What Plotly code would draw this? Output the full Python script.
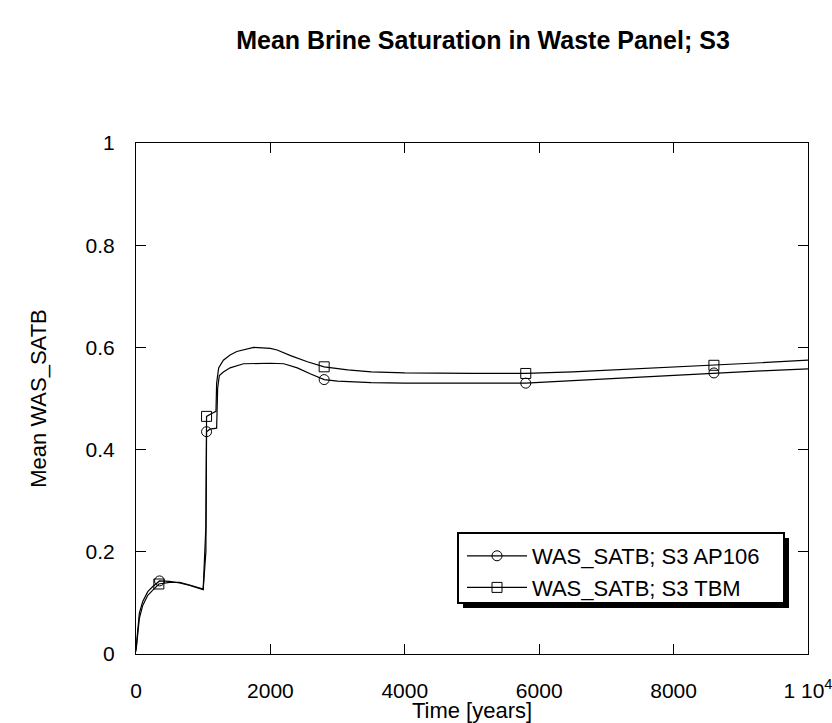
import plotly.graph_objects as go

# ---- data ----
t_ap106 = [0, 25, 50, 100, 175, 250, 350, 500, 650, 800, 1000, 1040, 1050, 1100, 1200, 1215, 1240,
           1300, 1400, 1600, 1800, 2000, 2200, 2400, 2600, 2800, 3000, 3500, 4000, 5000, 5800,
           6500, 7500, 8600, 9300, 10000]
v_ap106 = [0.01, 0.05, 0.08, 0.103, 0.122, 0.132, 0.143, 0.142, 0.139, 0.134, 0.126, 0.2, 0.435, 0.44, 0.442, 0.52, 0.545,
           0.552, 0.56, 0.568, 0.569, 0.569, 0.568, 0.56, 0.548, 0.537, 0.534, 0.531, 0.530, 0.530, 0.530,
           0.535, 0.542, 0.550, 0.554, 0.558]

t_tbm = [0, 25, 50, 100, 175, 250, 340, 500, 650, 800, 1000, 1040, 1050, 1120, 1190, 1200, 1230,
         1300, 1400, 1500, 1750, 2000, 2100, 2300, 2550, 2800, 3150, 3500, 4000, 5000, 5800,
         6500, 7500, 8600, 9300, 10000]
v_tbm = [0.005, 0.04, 0.07, 0.095, 0.115, 0.125, 0.137, 0.14, 0.14, 0.135, 0.127, 0.25, 0.465, 0.47, 0.475, 0.53, 0.56,
         0.575, 0.585, 0.592, 0.6, 0.598, 0.595, 0.584, 0.572, 0.562, 0.556, 0.552, 0.550, 0.549, 0.549,
         0.552, 0.558, 0.565, 0.570, 0.575]

mk_t_ap106 = [350, 1050, 2800, 5800, 8600]
mk_v_ap106 = [0.143, 0.435, 0.537, 0.530, 0.550]
mk_t_tbm = [340, 1050, 2800, 5800, 8600]
mk_v_tbm = [0.137, 0.465, 0.562, 0.549, 0.565]

x_tickvals = [0, 2000, 4000, 6000, 8000, 10000]
x_ticktext = ["0", "2000", "4000", "6000", "8000", "1 10<sup>4</sup>"]
y_tickvals = [0, 0.2, 0.4, 0.6, 0.8, 1]
y_ticktext = ["0", "0.2", "0.4", "0.6", "0.8", "1"]

names = ["WAS_SATB; S3 AP106", "WAS_SATB; S3 TBM"]

FONT = "Liberation Sans, Arial, sans-serif"
fig = go.Figure()

series = [
    (t_ap106, v_ap106, mk_t_ap106, mk_v_ap106, "circle-open", names[0]),
    (t_tbm, v_tbm, mk_t_tbm, mk_v_tbm, "square-open", names[1]),
]
for t, v, mt, mv, sym, nm in series:
    fig.add_trace(go.Scatter(x=t, y=v, mode="lines", line=dict(color="black", width=1.2),
                             showlegend=False, hoverinfo="skip"))
    fig.add_trace(go.Scatter(x=mt, y=mv, mode="markers",
                             marker=dict(symbol=sym, size=10, color="black", line=dict(width=1)),
                             showlegend=False))
    fig.add_trace(go.Scatter(x=[None], y=[None], mode="lines+markers", name=nm,
                             line=dict(color="black", width=1.2),
                             marker=dict(symbol=sym, size=10, color="black", line=dict(width=1))))

L, R, T, B = 136, 24, 143, 69
W, H = 832, 723
pw, ph = W - L - R, H - T - B

def px_x(p):
    return (p - L) / pw

def px_y(p):
    return (H - B - p) / ph

# legend frame with drop shadow
fig.add_shape(type="rect", xref="paper", yref="paper",
              x0=px_x(463), x1=px_x(789), y0=px_y(608), y1=px_y(538),
              fillcolor="black", line=dict(width=0), layer="above")
fig.add_shape(type="rect", xref="paper", yref="paper",
              x0=px_x(458), x1=px_x(784), y0=px_y(603), y1=px_y(533),
              fillcolor="white", line=dict(color="black", width=2), layer="above")

fig.update_layout(
    width=W, height=H,
    margin=dict(l=L, r=R, t=T, b=B),
    paper_bgcolor="white", plot_bgcolor="white",
    font=dict(family=FONT, size=21, color="black"),
    title=dict(text="<b>Mean Brine Saturation in Waste Panel; S3</b>",
               x=483 / W, xanchor="center", y=1 - 40 / H, yanchor="middle",
               font=dict(family=FONT, size=25, color="black")),
    xaxis=dict(range=[0, 10000], tickvals=x_tickvals, ticktext=x_ticktext,
               ticks="inside", ticklen=10, tickcolor="black", tickwidth=1,
               showline=True, linecolor="black", linewidth=1, mirror="ticks",
               showgrid=False, zeroline=False, ticklabelstandoff=18, automargin=False,
               ticklabeloverflow="allow", tickfont=dict(size=21),
               title=dict(text="Time [years]", font=dict(size=22), standoff=4)),
    yaxis=dict(range=[0, 1], tickvals=y_tickvals, ticktext=y_ticktext,
               ticks="inside", ticklen=10, tickcolor="black", tickwidth=1,
               showline=True, linecolor="black", linewidth=1, mirror="ticks",
               showgrid=False, zeroline=False, ticklabelstandoff=16, automargin=False,
               tickfont=dict(size=21),
               title=dict(text="Mean WAS_SATB", font=dict(size=22), standoff=32)),
    legend=dict(x=px_x(462), y=px_y(535), xanchor="left", yanchor="top",
                bgcolor="rgba(0,0,0,0)", borderwidth=0,
                font=dict(size=22), tracegroupgap=0, itemwidth=60),
)

fig.write_html("out.html", config={"displayModeBar": False},
               post_script="document.body.style.margin='0';")
